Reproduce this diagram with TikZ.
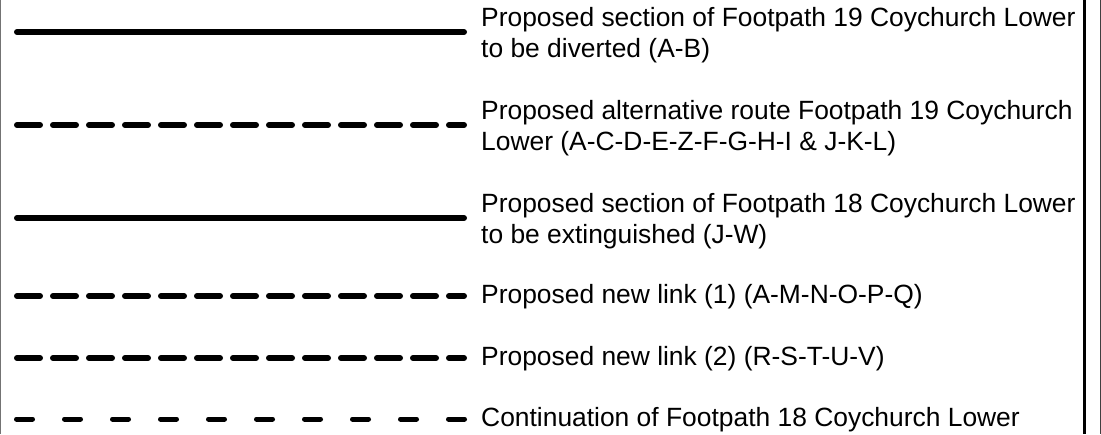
\documentclass[tikz,border=0pt]{standalone}
\usepackage{fontspec}
\setmainfont{Liberation Sans}
\begin{document}
\begin{tikzpicture}[x=1pt,y=-1pt,
  legtext/.style={anchor=west,align=left,inner sep=0pt,font=\fontsize{26.4}{31}\selectfont},
  solidline/.style={line width=6pt,line cap=round},
  longdash/.style={line width=6pt,line cap=round,dash pattern=on 23pt off 13pt},
  sparsedash/.style={line width=5pt,line cap=round,dash pattern=on 16pt off 32pt},
  border/.style={line width=1pt,draw=black!55}
]
\useasboundingbox (0,0) rectangle (1101,434);
% frame lines
\coordinate (lt) at (0.5,0); \coordinate (lb) at (0.5,434);
\coordinate (rt) at (1084.5,0); \coordinate (rb) at (1084.5,434);
\coordinate (et) at (1100.5,0); \coordinate (eb) at (1100.5,434);
\draw[border] (lt) -- (lb);
\draw[line width=3pt] (rt) -- (rb);
\draw[line width=1pt,draw=black!75] (et) -- (eb);
% legend symbols
\coordinate (a1) at (17,32);  \coordinate (b1) at (464,32);
\coordinate (a2) at (17,125); \coordinate (b2) at (464,125);
\coordinate (a3) at (17,218); \coordinate (b3) at (464,218);
\coordinate (a4) at (17,296); \coordinate (b4) at (464,296);
\coordinate (a5) at (17,358); \coordinate (b5) at (464,358);
\coordinate (a6) at (16.5,419); \coordinate (b6) at (464.5,419);
\draw[solidline] (a1) -- (b1);
\draw[longdash] (a2) -- (b2);
\draw[solidline] (a3) -- (b3);
\draw[longdash] (a4) -- (b4);
\draw[longdash] (a5) -- (b5);
\draw[sparsedash] (a6) -- (b6);
% legend texts
\node[legtext] (t1) at (481,35) {Proposed section of Footpath 19 Coychurch Lower\\to be diverted (A-B)};
\node[legtext] (t2) at (481,128) {Proposed alternative route Footpath 19 Coychurch\\Lower (A-C-D-E-Z-F-G-H-I \& J-K-L)};
\node[legtext] (t3) at (481,221) {Proposed section of Footpath 18 Coychurch Lower\\to be extinguished (J-W)};
\node[legtext] (t4) at (481,297) {Proposed new link (1) (A-M-N-O-P-Q)};
\node[legtext] (t5) at (481,359) {Proposed new link (2) (R-S-T-U-V)};
\node[legtext] (t6) at (481,420) {Continuation of Footpath 18 Coychurch Lower};
\end{tikzpicture}
\end{document}
